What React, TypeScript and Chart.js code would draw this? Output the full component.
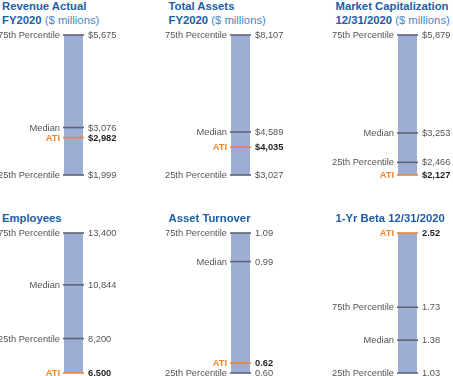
import React, { useEffect, useRef } from "react";
import { Chart, registerables } from "chart.js";

Chart.register(...registerables);

// ---- data ----
const titleLine1 = ["Revenue Actual", "Total Assets", "Market Capitalization", "Employees", "Asset Turnover", "1-Yr Beta 12/31/2020"];
const titleLine2 = ["FY2020", "FY2020", "12/31/2020", "", "", ""];
const titleUnits = ["($ millions)", "($ millions)", "($ millions)", "", "", ""];
const markerNames = ["75th Percentile", "Median", "25th Percentile", "ATI"];
const revenueValues = [5675, 3076, 1999, 2982];
const assetsValues = [8107, 4589, 3027, 4035];
const marketCapValues = [5879, 3253, 2466, 2127];
const employeesValues = [13400, 10844, 8200, 6500];
const turnoverValues = [1.09, 0.99, 0.6, 0.62];
const betaValues = [1.73, 1.38, 1.03, 2.52];
const panelValues = [revenueValues, assetsValues, marketCapValues, employeesValues, turnoverValues, betaValues];
const valuePrefix = ["$", "$", "$", "", "", ""];
const valueDecimals = [0, 0, 0, 0, 2, 2];

// ---- layout / style ----
const W = 453;
const H = 376;
const colX = [2, 168.5, 335.5];
const rowBarTop = [34.5, 233];
const BAR_H = 140;
const BAR_OFF = 62;
const BAR_W = 19;
const FONT = "'Liberation Sans', Arial, Helvetica, sans-serif";
const BAR_COLOR = "#9eadd3";
const LINE_COLOR = "#5d6475";
const ATI_COLOR = "#f0862c";
const TEXT_COLOR = "#555555";
const TITLE_BLUE = "#1b5ea6";
const UNIT_BLUE = "#4a86c5";
const MIN_GAP = 10;

function fmt(v: number, i: number) {
  return valuePrefix[i] + v.toLocaleString("en-US", { minimumFractionDigits: valueDecimals[i], maximumFractionDigits: valueDecimals[i] });
}

const markerPlugin = {
  id: "markers",
  afterDatasetsDraw(chart: any) {
    const o = chart.options.plugins.markers;
    const vals: number[] = o.values;
    const idx: number = o.index;
    const yScale = chart.scales.y;
    const area = chart.chartArea;
    const ctx = chart.ctx;
    const items = vals.map((v, k) => ({ v, k, y: yScale.getPixelForValue(v) }));
    items.sort((a, b) => a.v - b.v);
    for (let j = 1; j < items.length; j++) {
      if (items[j].y > items[j - 1].y - MIN_GAP) items[j].y = items[j - 1].y - MIN_GAP;
    }
    ctx.save();
    for (const it of items) {
      const ati = it.k === 3;
      ctx.beginPath();
      ctx.strokeStyle = ati ? ATI_COLOR : LINE_COLOR;
      ctx.lineWidth = 1.6;
      ctx.moveTo(area.left - 1, it.y);
      ctx.lineTo(area.right + 1, it.y);
      ctx.stroke();
      ctx.textBaseline = "middle";
      ctx.textAlign = "right";
      ctx.font = (ati ? "bold " : "") + "9.3px " + FONT;
      ctx.fillStyle = ati ? ATI_COLOR : TEXT_COLOR;
      ctx.fillText(markerNames[it.k], area.left - 4, it.y + 0.5);
      ctx.textAlign = "left";
      ctx.fillStyle = ati ? "#1e1e1e" : TEXT_COLOR;
      ctx.fillText(fmt(it.v, idx), area.right + 5, it.y + 0.5);
    }
    ctx.restore();
  },
};

function Panel({ index }: { index: number }) {
  const ref = useRef<HTMLCanvasElement>(null);
  const col = index % 3;
  const row = Math.floor(index / 3);
  const ox = colX[col];
  const barTop = rowBarTop[row];
  const canvasLeft = Math.max(0, ox - 20);
  const canvasTop = barTop - 8;
  const canvasW = 151 + (ox - canvasLeft);
  const canvasH = BAR_H + 16;
  const padLeft = ox + BAR_OFF - canvasLeft;
  const padRight = canvasW - padLeft - BAR_W;

  useEffect(() => {
    const vals = panelValues[index];
    const lo = Math.min(...vals);
    const hi = Math.max(...vals);
    const chart = new Chart(ref.current as HTMLCanvasElement, {
      type: "bar",
      data: {
        labels: [titleLine1[index]],
        datasets: [
          {
            data: [[lo, hi]] as any,
            backgroundColor: BAR_COLOR,
            borderWidth: 0,
            barPercentage: 1,
            categoryPercentage: 1,
          },
        ],
      },
      options: {
        animation: false,
        responsive: false,
        devicePixelRatio: 1,
        layout: { padding: { left: padLeft, right: padRight, top: 8, bottom: 8 } },
        scales: {
          x: { display: false },
          y: { display: false, min: lo, max: hi },
        },
        plugins: {
          legend: { display: false },
          tooltip: { enabled: false },
          markers: { values: vals, index },
        } as any,
      },
      plugins: [markerPlugin],
    });
    return () => chart.destroy();
  }, []);

  const lines = titleLine2[index] ? 2 : 1;
  const titleTop = barTop - 21 - 13.5 * (lines - 1);

  return (
    <>
      <div
        style={{
          position: "absolute",
          left: ox,
          top: titleTop,
          fontFamily: FONT,
          fontSize: "11.3px",
          lineHeight: "13.5px",
          whiteSpace: "nowrap",
          color: TITLE_BLUE,
          fontWeight: "bold",
        }}
      >
        <div>{titleLine1[index]}</div>
        {lines === 2 && (
          <div>
            {titleLine2[index]}{" "}
            <span style={{ fontWeight: "normal", color: UNIT_BLUE }}>{titleUnits[index]}</span>
          </div>
        )}
      </div>
      <canvas
        ref={ref}
        width={canvasW}
        height={canvasH}
        style={{ position: "absolute", left: canvasLeft, top: canvasTop, width: canvasW, height: canvasH }}
      />
    </>
  );
}

export default function App() {
  return (
    <div style={{ position: "absolute", left: 0, top: 0, width: W, height: H, background: "#fff", overflow: "hidden" }}>
      {[0, 1, 2, 3, 4, 5].map((i) => (
        <Panel key={i} index={i} />
      ))}
    </div>
  );
}
